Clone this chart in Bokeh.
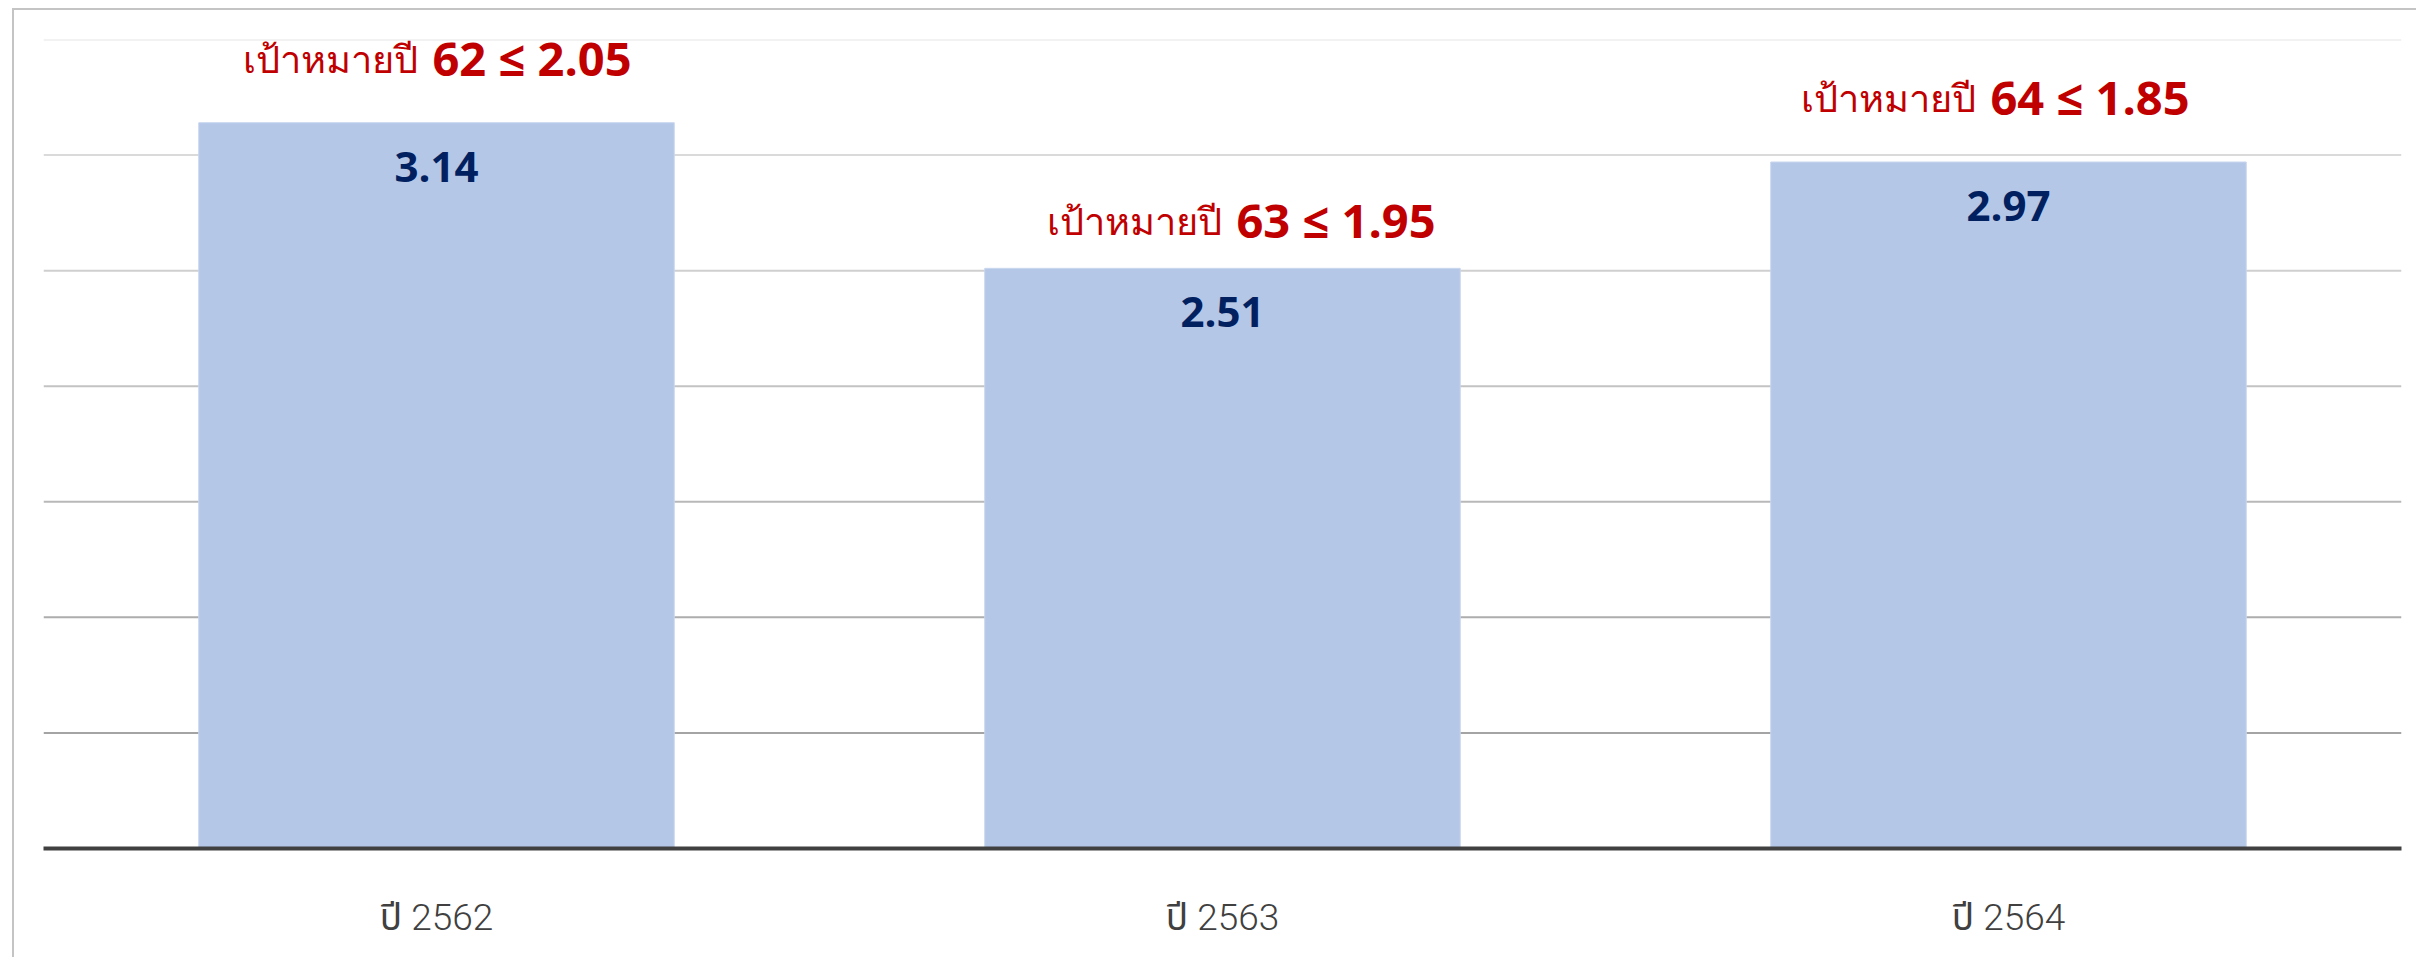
from bokeh.plotting import figure
from bokeh.models import ColumnDataSource, Range1d, Span
from bokeh.core.properties import value
from bokeh.embed import file_html
from bokeh.resources import INLINE

# ---- data ----
categories = ["ปี 2562", "ปี 2563", "ปี 2564"]
values = [3.14, 2.51, 2.97]
value_labels = ["3.14", "2.51", "2.97"]
target_prefix = ["เป้าหมายปี", "เป้าหมายปี", "เป้าหมายปี"]
target_labels = ["62 ≤ 2.05", "63 ≤ 1.95", "64 ≤ 1.85"]
grid_values = [0.5, 1.0, 1.5, 2.0, 2.5, 3.0, 3.5]

# ---- style ----
grid_colors = ["#a4a4a4", "#adadad", "#b8b8b8", "#c3c3c3", "#cfcfcf", "#dadada", "#e5e5e5"]
label_dx = [-4, 14, -18]          # horizontal nudge of target labels (px)
label_gap = [-65, -48, -65]       # baseline offset above the bar top (px)

p = figure(
    x_range=categories,
    y_range=Range1d(0, 3.5),
    width=2404, height=949,
    output_backend="svg", toolbar_location=None,
    min_border_left=29, min_border_right=17, min_border_top=29, min_border_bottom=111,
)
p.styles = {"margin-left": "12px", "margin-top": "8px",
            "border-left": "2px solid #c4c4c4", "border-top": "2px solid #c4c4c4"}
p.x_range.range_padding = 0
p.outline_line_color = None
p.xgrid.visible = False
p.ygrid.visible = False
p.yaxis.visible = False

for gv, gc in zip(grid_values, grid_colors):
    p.add_layout(Span(location=gv, dimension="width", line_color=gc, line_width=2, level="underlay"))

src = ColumnDataSource(dict(
    cat=categories, val=values, vlab=value_labels,
    pre=target_prefix, tgt=target_labels,
    dx_num=label_dx, dx_pre=[d - 15 for d in label_dx], gap=label_gap,
))

p.vbar(x="cat", top="val", width=0.605, source=src,
       fill_color="#b4c7e7", line_color="#c8d6ef", line_width=1)

# value labels inside bars
p.text(x="cat", y="val", text="vlab", source=src, y_offset=44,
       text_align="center", text_baseline="alphabetic",
       text_font=value("Open Sans"), text_font_style="bold",
       text_font_size="42px", text_color="#002060")

# target labels above bars
p.text(x="cat", y="val", text="pre", source=src, x_offset="dx_pre", y_offset="gap",
       text_align="right", text_baseline="alphabetic",
       text_font=value("Noto Sans"), text_font_size="38px", text_color="#c00000")
p.text(x="cat", y="val", text="tgt", source=src, x_offset="dx_num", y_offset="gap",
       text_align="left", text_baseline="alphabetic",
       text_font=value("Open Sans"), text_font_style="bold",
       text_font_size="47px", text_color="#c00000")

ax = p.xaxis[0]
ax.axis_line_color = "#404040"
ax.axis_line_width = 4
ax.major_tick_line_color = None
ax.minor_tick_line_color = None
ax.major_tick_out = 0
ax.major_tick_in = 0
ax.major_label_standoff = 47
ax.major_label_text_font = "Roboto Light, Noto Sans Thai Light, Noto Sans Thai, Roboto"
ax.major_label_text_font_size = "37px"
ax.major_label_text_color = "#404040"

open("out.html", "w").write(file_html(p, INLINE))
